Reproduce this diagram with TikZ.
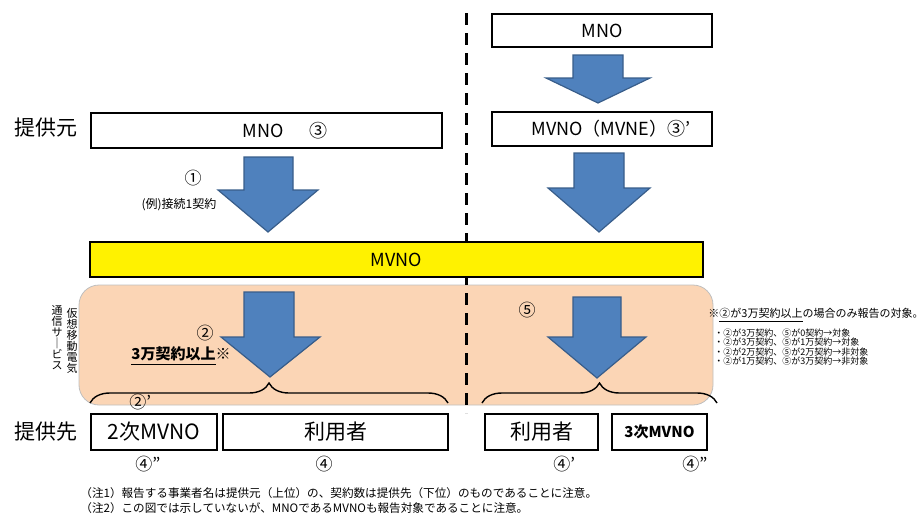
\documentclass[tikz,border=0pt]{standalone}
\usepackage{fontspec}
\setmainfont{Noto Sans CJK JP}
\usetikzlibrary{decorations.pathreplacing}

\definecolor{arrowblue}{RGB}{79,129,189}
\definecolor{arrowedge}{RGB}{56,93,138}
\definecolor{peach}{RGB}{251,213,181}
\newcommand{\fsz}[1]{\fontsize{#1}{#1}\selectfont}

\tikzset{
  box/.style={draw, line width=1pt, fill=white, inner sep=0pt},
  blockarrow/.style={fill=arrowblue, draw=arrowedge, line width=0.6pt},
  bracepath/.style={decorate, decoration={brace, amplitude=10pt}, line width=0.7pt},
  tag/.style={inner sep=0pt, font=\fsz{8.5}},
}

\begin{document}
\begin{tikzpicture}[x=0.5pt, y=-0.5pt]
        \useasboundingbox (0,0) rectangle (921,514);
        \draw [fill=peach, draw=gray!50, rounded corners=10pt] (79,285) rectangle (713,405);     %band
        \draw [line width=1.5pt, dash pattern=on 6pt off 4pt] (466,13) -- (466,413);           %divider
        % rows
        \node [inner sep=0pt, font=\fsz{10.5}] (src) at (46,128) {提供元};
        \node [inner sep=0pt, font=\fsz{10.5}] (dst) at (46,432) {提供先};
        % upper boxes
        \node [box, minimum width=110pt, minimum height=16.5pt, font=\fsz{9}] (mnotop) at (602,30.5) {MNO};
        \node [box, minimum width=110pt, minimum height=17pt, font=\fsz{9}] (mvne) at (602,129) {\hspace{1em}MVNO（MVNE）③’};
        \node [box, minimum width=175.5pt, minimum height=17.5pt] (mnoleft) at (266.5,130.5) {};
        \node [inner sep=0pt, font=\fsz{9}] (mnolbl) at (285,130.5) {MNO\hspace{1.4em}③};
        % arrows
        \draw [blockarrow] (573,55) -- (623,55) -- (623,78) -- (650,78) -- (598,103) -- (546,78) -- (573,78) -- cycle;       %MNO->MVNE
        \draw [blockarrow] (244,157) -- (293,157) -- (293,190) -- (318,190) -- (268,232) -- (218,190) -- (244,190) -- cycle;  %1
        \draw [blockarrow] (574,153) -- (624,153) -- (624,188) -- (650,188) -- (599,232) -- (548,188) -- (574,188) -- cycle;  %MVNE->MVNO
        \node [tag] (n1) at (193,178) {①};
        \node [inner sep=0pt, font=\fsz{6}] (ex1) at (179,205) {(例)接続1契約};
        % MVNO bar
        \node [box, fill=yellow, minimum width=306.5pt, minimum height=17.5pt, font=\fsz{9}] (mvno) at (396.5,259.5) {MVNO};
        % band contents
        \node [inner sep=0pt, font=\fsz{5.5}, align=center] (vright) at (72,341) {仮\\想\\移\\動\\電\\気};
        \node [inner sep=0pt, font=\fsz{5.5}, align=center] (vleft) at (57,338) {通\\信\\サ\\｜\\ビ\\ス};
        \draw [blockarrow] (244,292) -- (294,292) -- (294,337) -- (320,337) -- (270,377) -- (221,337) -- (244,337) -- cycle;  %2
        \draw [blockarrow] (573,297) -- (621,297) -- (621,337) -- (646,337) -- (597,378) -- (548,337) -- (573,337) -- cycle;  %5
        \node [tag] (n2) at (205,333) {②};
        \node [inner sep=0pt, font=\bfseries\fsz{7.5}] (cond) at (181,356) {\underline{3万契約以上}※};
        \node [tag] (n5) at (527,310) {⑤};
        \draw [bracepath] (90,403) -- (448,403);     %left
        \draw [bracepath] (482,403) -- (717,403);    %right
        \node [tag, anchor=west] (n2p) at (129,402) {②’};
        % lower boxes
        \node [box, minimum width=63pt, minimum height=18pt, font=\fsz{10.5}] (sub2) at (154,432) {2次MVNO};
        \node [box, minimum width=112.5pt, minimum height=18pt, font=\fsz{10.5}] (user1) at (335.5,432) {利用者};
        \node [box, minimum width=56.5pt, minimum height=18pt, font=\fsz{10.5}] (user2) at (541.5,432) {利用者};
        \node [box, minimum width=47.5pt, minimum height=18pt, font=\bfseries\fsz{7.5}] (sub3) at (659.5,432) {3次MVNO};
        \node [tag, anchor=west] (n4a) at (135,464) {④”};
        \node [tag] (n4b) at (324,464) {④};
        \node [tag, anchor=west] (n4c) at (553,464) {④’};
        \node [tag, anchor=west] (n4d) at (682,464) {④”};
        % notes
        \node [inner sep=0pt, anchor=west, font=\fsz{5.5}] (rnote) at (708,315) {※\underline{②が3万契約以上}の場合のみ報告の対象。};
        \node [inner sep=0pt, anchor=north west, align=left, font=\fsz{4.5}] (rlist) at (714,328)
              {・②が3万契約、⑤が0契約→対象\\[0.3pt]・②が3万契約、⑤が1万契約→対象\\[0.3pt]・②が2万契約、⑤が2万契約→非対象\\[0.3pt]・②が1万契約、⑤が3万契約→非対象};
        \node [inner sep=0pt, anchor=west, font=\fsz{5.8}] (note1) at (80,493) {（注1）報告する事業者名は提供元（上位）の、契約数は提供先（下位）のものであることに注意。};
        \node [inner sep=0pt, anchor=west, font=\fsz{5.8}] (note2) at (80,508) {（注2）この図では示していないが、MNOであるMVNOも報告対象であることに注意。};
\end{tikzpicture}
\end{document}
